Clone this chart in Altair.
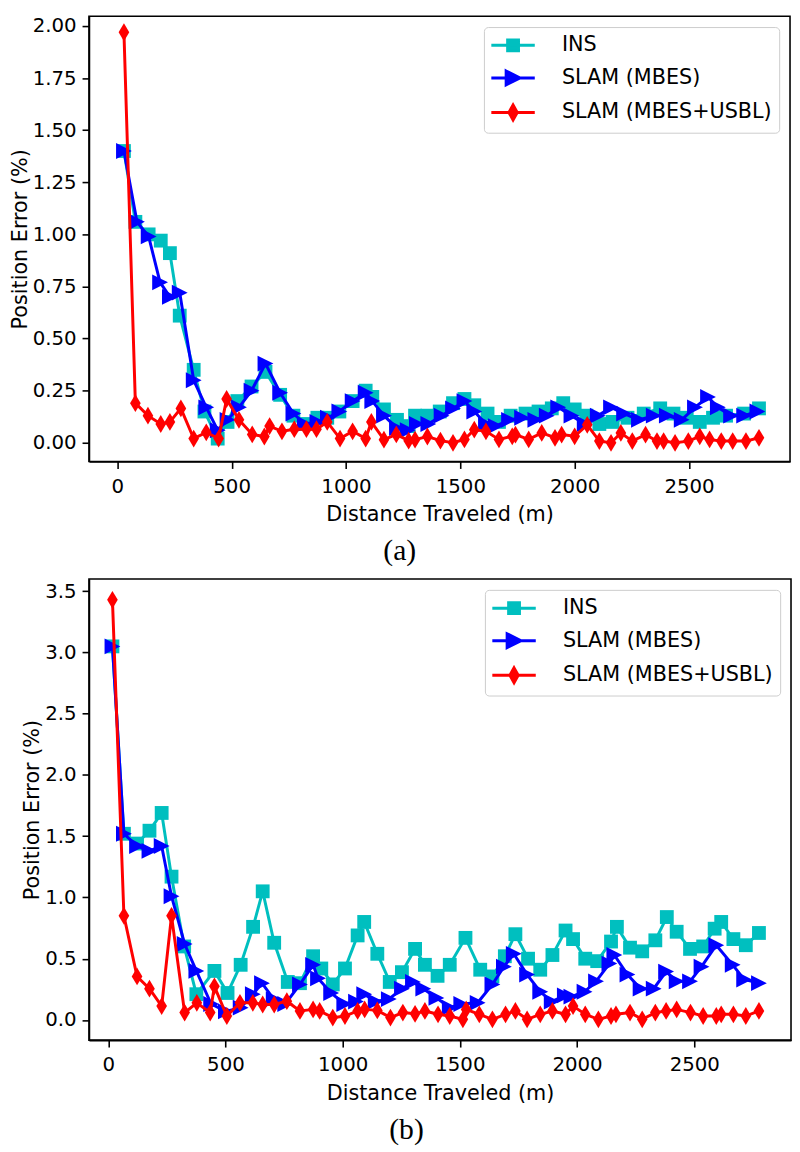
import altair as alt
import pandas as pd

SERIES = ["INS", "SLAM (MBES)", "SLAM (MBES+USBL)"]
COLORS = ["#00bfbf", "#0000ff", "#ff0000"]

X_TICKS = [0, 500, 1000, 1500, 2000, 2500]

# ---------------- panel (a) ----------------
a_ins_d = [29, 79, 137, 190, 230, 273, 334, 381, 439, 482, 525, 587, 648, 712, 770, 820, 875, 918,
           971, 1029, 1086, 1115, 1166, 1223, 1274, 1302, 1356, 1410, 1468, 1518, 1561, 1619, 1669,
           1720, 1785, 1842, 1900, 1950, 2000, 2051, 2108, 2166, 2231, 2302, 2374, 2432, 2490, 2547,
           2605, 2662, 2741, 2806]
a_ins_e = [1.40, 1.06, 1.00, 0.97, 0.91, 0.61, 0.35, 0.15, 0.02, 0.10, 0.20, 0.27, 0.34, 0.23, 0.13,
           0.09, 0.12, 0.12, 0.15, 0.20, 0.25, 0.22, 0.16, 0.11, 0.08, 0.13, 0.13,
           0.15, 0.19, 0.21, 0.18, 0.14, 0.10, 0.13, 0.14, 0.15, 0.165, 0.19, 0.16, 0.13, 0.09, 0.10,
           0.12, 0.14, 0.165, 0.14, 0.12, 0.10, 0.12, 0.13, 0.14, 0.165]

a_mb_d = [29, 86, 137, 187, 230, 273, 334, 389, 439, 482, 532, 587, 648, 712, 770, 820, 875, 921,
          971, 1029, 1086, 1115, 1166, 1223, 1270, 1310, 1360, 1418, 1468, 1518, 1561, 1612, 1655,
          1713, 1770, 1828, 1878, 1928, 1986, 2044, 2101, 2159, 2216, 2281, 2346, 2403, 2468, 2526,
          2583, 2626, 2684, 2741, 2799]
a_mb_e = [1.40, 1.06, 0.99, 0.77, 0.70, 0.72, 0.30, 0.17, 0.06, 0.11, 0.17, 0.25, 0.38, 0.24, 0.14,
          0.09, 0.10, 0.12, 0.15, 0.20, 0.24, 0.20, 0.13, 0.07, 0.06, 0.09, 0.09, 0.13, 0.165, 0.20,
          0.15, 0.09, 0.08, 0.11, 0.12, 0.11, 0.13, 0.17, 0.13, 0.09, 0.13, 0.17, 0.14, 0.11, 0.13,
          0.13, 0.11, 0.17, 0.22, 0.17, 0.13, 0.13, 0.15]

a_us_d = [29, 79, 134, 190, 230, 278, 334, 389, 443, 478, 532, 590, 643, 666, 720, 774, 827, 871,
          918, 974, 1029, 1086, 1111, 1166, 1220, 1274, 1302, 1356, 1413, 1468, 1518, 1561, 1612,
          1669, 1727, 1741, 1799, 1856, 1914, 1943, 2000, 2055, 2108, 2159, 2202, 2252, 2310, 2360,
          2389, 2439, 2497, 2547, 2590, 2641, 2691, 2749, 2806]
a_us_e = [1.97, 0.19, 0.13, 0.09, 0.10, 0.165, 0.02, 0.05, 0.02, 0.21, 0.11, 0.04, 0.03, 0.08, 0.055,
          0.065, 0.065, 0.065, 0.10, 0.02, 0.055, 0.02, 0.10, 0.015, 0.04, 0.01, 0.015, 0.03, 0.01,
          0.0, 0.016, 0.063, 0.055, 0.016, 0.031, 0.039, 0.016, 0.047, 0.024, 0.039, 0.031, 0.086,
          0.008, 0.0, 0.047, 0.008, 0.039, 0.008, 0.008, 0.0, 0.008, 0.031, 0.016, 0.008, 0.008,
          0.008, 0.024]

A_Y_TICKS = [0.0, 0.25, 0.5, 0.75, 1.0, 1.25, 1.5, 1.75, 2.0]

# ---------------- panel (b) ----------------
b_ins_d = [18, 67, 123, 176, 228, 270, 324, 376, 453, 509, 565, 618, 659, 708, 766, 818, 874, 909,
           958, 1010, 1064, 1092, 1148, 1201, 1253, 1309, 1351, 1405, 1457, 1524, 1587, 1639, 1692,
           1737, 1791, 1843, 1895, 1951, 1983, 2035, 2086, 2145, 2170, 2226, 2278, 2334, 2383, 2425,
           2482, 2538, 2587, 2615, 2667, 2720, 2776]
b_ins_e = [3.05, 1.52, 1.44, 1.545, 1.69, 1.17, 0.60, 0.21, 0.40, 0.22, 0.45, 0.76, 1.05, 0.63, 0.31,
           0.30, 0.52, 0.42, 0.29, 0.42, 0.69, 0.80, 0.54, 0.31, 0.39, 0.58, 0.45, 0.36, 0.45, 0.67,
           0.41, 0.355, 0.52, 0.70, 0.50, 0.41, 0.53, 0.73, 0.66, 0.50, 0.48, 0.64, 0.76, 0.59, 0.56,
           0.65, 0.84, 0.72, 0.58, 0.60, 0.745, 0.80, 0.66, 0.61, 0.71]

b_mb_d = [18, 67, 123, 176, 228, 270, 326, 376, 439, 502, 565, 617, 656, 706, 755, 818, 874, 895,
          951, 1007, 1057, 1092, 1141, 1197, 1253, 1300, 1344, 1400, 1457, 1506, 1576, 1639, 1688,
          1730, 1787, 1843, 1892, 1948, 1976, 2032, 2081, 2138, 2159, 2215, 2271, 2327, 2380, 2425,
          2482, 2531, 2594, 2664, 2713, 2776]
b_mb_e = [3.05, 1.52, 1.42, 1.38, 1.42, 1.01, 0.62, 0.40, 0.13, 0.07, 0.10, 0.21, 0.30, 0.17, 0.13,
          0.29, 0.45, 0.34, 0.22, 0.13, 0.15, 0.21, 0.15, 0.17, 0.255, 0.31, 0.255, 0.18, 0.10, 0.13,
          0.14, 0.29, 0.435, 0.54, 0.37, 0.23, 0.15, 0.20, 0.19, 0.23, 0.315, 0.46, 0.53, 0.37, 0.255,
          0.255, 0.395, 0.315, 0.315, 0.435, 0.61, 0.45, 0.33, 0.30]

b_us_d = [18, 67, 123, 176, 228, 270, 326, 378, 435, 453, 506, 562, 617, 659, 708, 762, 818, 874,
          902, 958, 1010, 1064, 1094, 1148, 1204, 1257, 1309, 1351, 1407, 1457, 1513, 1527, 1583,
          1639, 1695, 1737, 1787, 1843, 1895, 1951, 1983, 2035, 2091, 2145, 2166, 2226, 2278, 2334,
          2380, 2425, 2484, 2538, 2594, 2615, 2667, 2720, 2776]
b_us_e = [3.43, 0.85, 0.355, 0.255, 0.113, 0.85, 0.06, 0.14, 0.06, 0.274, 0.032, 0.14, 0.14, 0.126,
          0.126, 0.153, 0.073, 0.086, 0.073, 0.019, 0.032, 0.073, 0.086, 0.078, 0.019, 0.06, 0.05,
          0.073, 0.046, 0.032, 0.005, 0.086, 0.046, 0.005, 0.046, 0.073, 0.005, 0.046, 0.073, 0.046,
          0.113, 0.046, 0.005, 0.032, 0.046, 0.06, 0.005, 0.06, 0.073, 0.086, 0.06, 0.032, 0.032,
          0.046, 0.046, 0.032, 0.073]

B_Y_TICKS = [0.0, 0.5, 1.0, 1.5, 2.0, 2.5, 3.0, 3.5]

# ---------------- styling ----------------
MARKER_PATHS = ["M-1,-1H1V1H-1Z", "M1,0L-1,-1L-1,1Z", "M0,-1L0.6,0L0,1L-0.6,0Z"]
MARKER_SIZES = [196, 256, 324]
LEGEND_PATHS = [
    "M-2.2,0H2.2M-0.55,-0.55H0.55V0.55H-0.55Z",
    "M-2.2,0H2.2M-0.7,-0.7L0.7,0L-0.7,0.7Z",
    "M-2.2,0H2.2M0,-0.75L0.42,0L0,0.75L-0.42,0Z",
]

ORIGIN = 88  # page x of plot-area left edge (shared by both panels)


def make_df(ds, es):
    frames = [pd.DataFrame({"d": d, "e": e, "s": name}) for name, d, e in zip(SERIES, ds, es)]
    return pd.concat(frames, ignore_index=True)


def panel(df, xdom, ydom, width, height, yvals, yfmt, caption):
    x = alt.X("d:Q", scale=alt.Scale(domain=xdom, nice=False, zero=False),
              axis=alt.Axis(values=X_TICKS, format="d", title="Distance Traveled (m)",
                            labelPadding=8, titlePadding=8))
    y = alt.Y("e:Q", scale=alt.Scale(domain=ydom, nice=False, zero=False),
              axis=alt.Axis(values=yvals, format=yfmt, title="Position Error (%)",
                            labelPadding=6, titlePadding=2))
    layers = []
    for i, name in enumerate(SERIES):
        base = alt.Chart(df).transform_filter(alt.datum.s == name)
        layers.append(base.mark_line(strokeWidth=3, color=COLORS[i]).encode(x=x, y=y))
        layers.append(base.mark_point(shape=MARKER_PATHS[i], size=MARKER_SIZES[i], filled=True,
                                      opacity=1, color=COLORS[i]).encode(x=x, y=y))
    cscale = alt.Scale(domain=SERIES, range=COLORS)
    leg = alt.Legend(title=None, orient="top-right", offset=11, padding=7, rowPadding=8,
                     labelFont="DejaVu Sans", labelFontSize=21, labelColor="black",
                     labelLimit=500, labelOffset=38, symbolSize=400, symbolStrokeWidth=3,
                     symbolOffset=11, symbolOpacity=1, strokeColor="#cccccc", cornerRadius=4,
                     fillColor="rgba(255,255,255,0.8)")
    lscale = alt.Scale(domain=SERIES, range=LEGEND_PATHS)
    layers.append(alt.Chart(df).mark_point(size=0, filled=True, opacity=1, strokeWidth=3).encode(
        x=x, y=y,
        fill=alt.Fill("s:N", scale=cscale, legend=leg),
        stroke=alt.Stroke("s:N", scale=cscale, legend=leg),
        shape=alt.Shape("s:N", scale=lscale, legend=leg)))
    return alt.layer(*layers).properties(
        width=width, height=height,
        title=alt.TitleParams(caption, orient="bottom", anchor="middle", frame="bounds",
                              font="Liberation Serif", fontSize=30, fontWeight="normal",
                              color="black", offset=12))


df_a = make_df([a_ins_d, a_mb_d, a_us_d], [a_ins_e, a_mb_e, a_us_e])
df_b = make_df([b_ins_d, b_mb_d, b_us_d], [b_ins_e, b_mb_e, b_us_e])

# pixel mapping
a_x0, a_kx, a_right = 116.7, 0.2316, 798
b_x0, b_kx, b_right = 107.5, 0.2374, 799
a_dom = [(ORIGIN - a_x0) / a_kx, (a_right - a_x0) / a_kx]
b_dom = [(ORIGIN - b_x0) / b_kx, (b_right - b_x0) / b_kx]

pa = panel(df_a, a_dom, [-0.09, 2.047], a_right - ORIGIN, 451, A_Y_TICKS, ".2f", "(a)")
pb = panel(df_b, b_dom, [-0.165, 3.60], b_right - ORIGIN, 467, B_Y_TICKS, ".1f", "(b)")

chart = alt.vconcat(pa, pb, spacing=11, padding=0).resolve_scale(
    fill="independent", stroke="independent", shape="independent"
).resolve_legend(
    fill="independent", stroke="independent", shape="independent"
).configure(
    padding=0
).configure_axis(
    labelFont="DejaVu Sans", labelFontSize=20, labelColor="black",
    titleFont="DejaVu Sans", titleFontSize=21, titleFontWeight="normal", titleColor="black",
    tickColor="black", tickSize=7, tickWidth=1.6, domainColor="black", domainWidth=1.6,
    grid=False
).configure_view(
    stroke="black", strokeWidth=1.6
)

chart.save("out.html", embed_options={"renderer": "svg", "actions": False})
